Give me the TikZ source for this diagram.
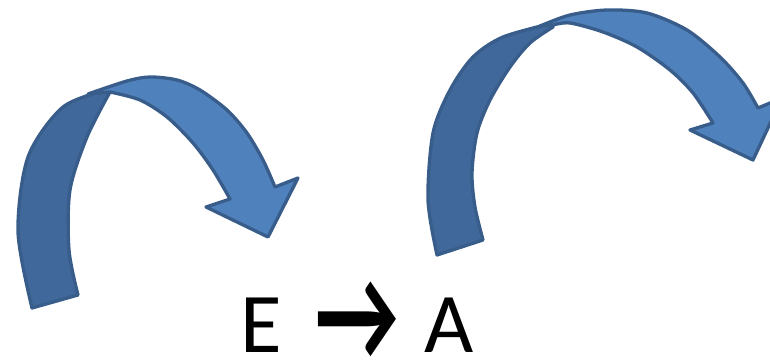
\documentclass[tikz,border=0pt]{standalone}
\usepackage{fontspec}
\setmainfont{Carlito}
\usepackage{tikz}
\definecolor{ribbonLight}{HTML}{4F81BD}
\definecolor{ribbonDark}{HTML}{40689A}
\definecolor{ribbonEdge}{HTML}{385D8A}
\tikzset{
  back/.style={draw=ribbonEdge,fill=ribbonDark,line width=3.3pt,line join=round},
  front/.style={draw=ribbonEdge,fill=ribbonLight,line width=3.3pt,line join=round},
  label/.style={font=\fontsize{85}{100}\selectfont,inner sep=0pt,anchor=base},
}
\begin{document}
\begin{tikzpicture}[x=1pt,y=-1pt]
\useasboundingbox (0,0) rectangle (770,361);
\clip (0,0) rectangle (770,361);
\filldraw[back] plot[smooth] coordinates {(32,308) (18,232) (28,157) (63,107) (110,89)}
  -- plot[smooth] coordinates {(110,92) (87,137) (70,190) (69,250) (78,295)} -- cycle;
\filldraw[front] plot[smooth] coordinates {(88,94) (127,81) (150,77) (177,80) (200,90) (227,110) (247,133) (263,160) (275,187)}
  -- (298,178) -- (268,237) -- (206,207)
  -- plot[smooth] coordinates {(230,199) (213,170) (193,143) (167,117) (140,100) (110,92)} -- cycle;
\filldraw[back] plot[smooth] coordinates {(437,255) (428,200) (433,133) (450,90) (473,57) (503,37) (553,23)}
  -- plot[smooth] coordinates {(553,27) (530,43) (510,67) (490,100) (477,133) (472,173) (475,207) (483,240)} -- cycle;
\filldraw[front] plot[smooth] coordinates {(540,26) (570,15) (607,10) (647,13) (687,30) (720,57) (743,83) (758,108)}
  -- (782,98) -- (753,160) -- (690,130)
  -- plot[smooth] coordinates {(713,123) (693,93) (670,70) (637,47) (603,32) (570,23) (553,25)} -- cycle;
\node[label] (rule) at (357,352) {E\hspace{0.4em}\raisebox{-8pt}{\scalebox{0.92}[1.35]{\fontsize{100}{100}\selectfont\textbf{→}}}\hspace{0.3em}A};
\end{tikzpicture}
\end{document}
